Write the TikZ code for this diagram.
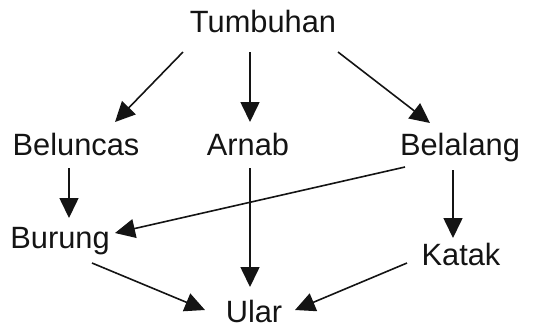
\documentclass[tikz,border=0pt]{standalone}
\usepackage{fontspec}
\setmainfont{Liberation Sans}
\usepackage{tikz}
\usetikzlibrary{arrows.meta,calc}
\definecolor{inkdark}{RGB}{20,20,20}

\begin{document}
\begin{tikzpicture}[x=0.5pt,y=-0.5pt,
    organism/.style={anchor=base,inner sep=0pt,text=inkdark,font=\fontsize{15.4}{18}\selectfont},
    eats/.style={draw=inkdark,line width=0.8pt,-{Triangle[length=10pt,width=9.5pt]}}]
  \useasboundingbox (0,0) rectangle (541,329);
  % organisms (x, baseline)
  \foreach \n/\x/\y/\lab in {tumbuhan/263/32/Tumbuhan,beluncas/76/155/Beluncas,
      arnab/248/155/Arnab,belalang/460/155/Belalang,burung/60/248/Burung,
      katak/461/265/Katak,ular/254/322/Ular} {
    \node[organism] (\n) at (\x,\y) {\lab};
  }
  % food chain arrows
  \foreach \a/\ax/\ay/\b/\bx/\by in {tumbuhan/-80/20/beluncas/39/-33,
      tumbuhan/-13/20/arnab/2/-33,tumbuhan/75/20/belalang/-30/-32,
      beluncas/-7/13/burung/9/-30,belalang/-55/12/burung/55/-15,
      arnab/2/13/ular/-4/-35,belalang/-7/15/katak/-8/-27,
      burung/32/15/ular/-49/-12,katak/-54/-2/ular/41/-12} {
    \draw[eats] ($(\a.base)+(\ax,\ay)$) -- ($(\b.base)+(\bx,\by)$);
  }
\end{tikzpicture}
\end{document}
